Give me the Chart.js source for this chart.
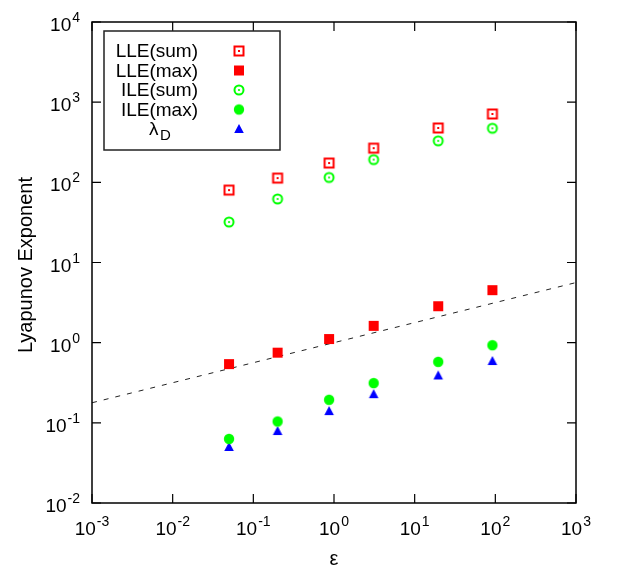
<!DOCTYPE html>
<html><head><meta charset="utf-8">
<script src="https://cdn.jsdelivr.net/npm/chart.js@4"></script>
<style>html,body{margin:0;padding:0;background:#fff}canvas{display:block}</style>
</head><body>
<canvas id="c" width="623" height="569"></canvas>
<script>
// ---- data ----
const epsilon = [0.05, 0.2, 0.87, 3.1, 19.6, 92];
const lleSum  = [80, 113, 174, 267, 477, 712];
const lleMax  = [0.54, 0.75, 1.11, 1.62, 2.85, 4.52];
const ileSum  = [32, 62, 115, 192, 329, 472];
const ileMax  = [0.063, 0.104, 0.194, 0.313, 0.576, 0.93];
const lambdaD = [0.050, 0.079, 0.14, 0.228, 0.39, 0.59];
const refLineX = [0.001, 1000];
const refLineY = [0.178, 5.62];
const xTickExps = [-3, -2, -1, 0, 1, 2, 3];
const yTickExps = [-2, -1, 0, 1, 2, 3, 4];
const seriesNames = ['LLE(sum)', 'LLE(max)', 'ILE(sum)', 'ILE(max)', 'λ'];
const xTitle = 'ε';
const yTitle = 'Lyapunov Exponent';

const RED = '#ff0000', GREEN = '#00ff00', BLUE = '#0000ff';

function mk(draw) {
  const c = document.createElement('canvas');
  c.width = 14; c.height = 14;
  const g = c.getContext('2d');
  draw(g);
  return c;
}
const mOpenSq = mk(g => { g.strokeStyle = RED; g.lineWidth = 2; g.strokeRect(2.5, 2.5, 9, 9); g.fillStyle = RED; g.fillRect(6, 6, 2, 2); });
const mFillSq = mk(g => { g.fillStyle = RED; g.fillRect(2, 2, 10, 10); });
const mOpenCi = mk(g => { g.strokeStyle = GREEN; g.lineWidth = 2; g.beginPath(); g.arc(7, 7, 4.5, 0, Math.PI * 2); g.stroke(); g.fillStyle = GREEN; g.beginPath(); g.arc(7, 7, 1.1, 0, Math.PI * 2); g.fill(); });
const mFillCi = mk(g => { g.fillStyle = GREEN; g.beginPath(); g.arc(7, 7, 5.2, 0, Math.PI * 2); g.fill(); });
const mTri = mk(g => { g.fillStyle = BLUE; g.beginPath(); g.moveTo(7, 2); g.lineTo(11.8, 11); g.lineTo(2.2, 11); g.closePath(); g.fill(); });
const markers = [mOpenSq, mFillSq, mOpenCi, mFillCi, mTri];

function pts(ys) { return epsilon.map((x, i) => ({ x: x, y: ys[i] })); }

const series = [lleSum, lleMax, ileSum, ileMax, lambdaD];
const datasets = series.map((s, i) => ({
  type: 'scatter', label: seriesNames[i], data: pts(s),
  pointStyle: markers[i], pointRadius: 6, showLine: false
}));
datasets.push({
  type: 'line', label: 'ref', data: refLineX.map((x, i) => ({ x: x, y: refLineY[i] })),
  borderColor: '#222', borderWidth: 1, borderDash: [5, 7], pointRadius: 0, fill: false, tension: 0
});

const FONT = '"Liberation Sans", Arial, Helvetica, sans-serif';

const decor = {
  id: 'decor',
  afterDatasetsDraw(chart) {
    const ctx = chart.ctx, a = chart.chartArea;
    const xs = chart.scales.x, ys = chart.scales.y;
    ctx.save();
    // frame
    ctx.strokeStyle = '#000'; ctx.lineWidth = 1.5;
    ctx.strokeRect(a.left, a.top, a.right - a.left, a.bottom - a.top);
    // ticks
    ctx.lineWidth = 1.2;
    ctx.beginPath();
    xTickExps.forEach(e => {
      const px = xs.getPixelForValue(Math.pow(10, e));
      ctx.moveTo(px, a.bottom); ctx.lineTo(px, a.bottom - 9);
      ctx.moveTo(px, a.top); ctx.lineTo(px, a.top + 9);
    });
    yTickExps.forEach(e => {
      const py = ys.getPixelForValue(Math.pow(10, e));
      ctx.moveTo(a.left, py); ctx.lineTo(a.left + 9, py);
      ctx.moveTo(a.right, py); ctx.lineTo(a.right - 9, py);
    });
    ctx.stroke();
    // tick labels
    ctx.fillStyle = '#000';
    ctx.textBaseline = 'alphabetic';
    const big = '19px ' + FONT, small = '14px ' + FONT;
    function label(e, x, y, align) {
      ctx.font = big; const w1 = ctx.measureText('10').width;
      const sup = String(e);
      ctx.font = small; const w2 = ctx.measureText(sup).width;
      const tot = w1 + w2 + 1;
      let x0 = align === 'center' ? x - tot / 2 : x - tot;
      ctx.textAlign = 'left';
      ctx.font = big; ctx.fillText('10', x0, y);
      ctx.font = small; ctx.fillText(sup, x0 + w1 + 1, y - 9);
    }
    xTickExps.forEach(e => label(e, xs.getPixelForValue(Math.pow(10, e)), a.bottom + 32, 'center'));
    yTickExps.forEach(e => label(e, a.left - 12, ys.getPixelForValue(Math.pow(10, e)) + 9, 'right'));
    // axis titles
    ctx.font = '20px ' + FONT;
    ctx.textAlign = 'center';
    ctx.fillText(xTitle, (a.left + a.right) / 2, 565);
    ctx.save();
    ctx.translate(32, 265);
    ctx.rotate(-Math.PI / 2);
    ctx.fillText(yTitle, 0, 0);
    ctx.restore();
    // legend
    ctx.strokeStyle = '#222'; ctx.lineWidth = 1.5;
    ctx.strokeRect(104, 31, 176, 119);
    const rowY = [57, 76.5, 96, 115.5, 135];
    seriesNames.forEach((n, i) => {
      if (i < 4) {
        ctx.font = '19px ' + FONT;
        ctx.textAlign = 'right';
        ctx.fillText(n, 198, rowY[i]);
      } else {
        ctx.textAlign = 'left';
        ctx.font = '19px ' + FONT;
        ctx.fillText(n, 149, rowY[i]);
        ctx.font = '15px ' + FONT;
        ctx.fillText('D', 160, rowY[i] + 5);
      }
      const m = markers[i];
      ctx.drawImage(m, 239 - m.width / 2, rowY[i] - 6 - m.height / 2);
    });
    ctx.restore();
  }
};

new Chart(document.getElementById('c'), {
  data: { datasets: datasets },
  options: {
    responsive: false, animation: false,
    layout: { padding: { left: 92, top: 22, right: 47, bottom: 66 } },
    scales: {
      x: { type: 'logarithmic', display: false, min: 1e-3, max: 1e3 },
      y: { type: 'logarithmic', display: false, min: 1e-2, max: 1e4 }
    },
    plugins: { legend: { display: false }, tooltip: { enabled: false } }
  },
  plugins: [decor]
});
</script>
</body></html>
